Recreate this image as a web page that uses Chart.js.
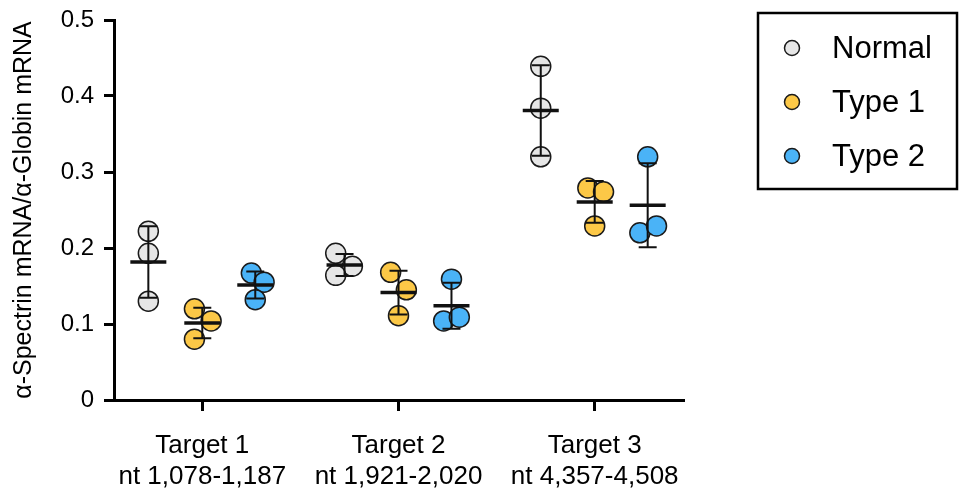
<!DOCTYPE html>
<html>
<head>
<meta charset="utf-8">
<script src="https://cdn.jsdelivr.net/npm/chart.js@4"></script>
<style>
  html, body { margin: 0; padding: 0; background: #fff; }
  #wrap { width: 960px; height: 488px; }
</style>
</head>
<body>
<div id="wrap"><canvas id="chart"></canvas></div>
<script>
// categories and groups
var targets = [["Target 1", "nt 1,078-1,187"], ["Target 2", "nt 1,921-2,020"], ["Target 3", "nt 4,357-4,508"]];
var groups = ["Normal", "Type 1", "Type 2"];
var yTicks = [0, 0.1, 0.2, 0.3, 0.4, 0.5];

// replicate values, one row per target
var normal = [[0.222, 0.193, 0.130], [0.193, 0.176, 0.164], [0.439, 0.384, 0.320]];
var type1 = [[0.120, 0.104, 0.080], [0.168, 0.145, 0.111], [0.279, 0.274, 0.229]];
var type2 = [[0.167, 0.155, 0.132], [0.159, 0.104, 0.109], [0.320, 0.220, 0.229]];

// horizontal scatter of the replicates within a group
var jitter = {
  "Normal": [[0, 0, 0], [-0.045, 0.04, -0.045], [0, 0, 0]],
  "Type 1": [[-0.04, 0.045, -0.04], [-0.04, 0.04, 0], [-0.035, 0.045, 0]],
  "Type 2": [[-0.02, 0.045, 0], [0, -0.04, 0.04], [0, -0.04, 0.045]]
};

var values = { "Normal": normal, "Type 1": type1, "Type 2": type2 };
var colors = { "Normal": "#e6e6e6", "Type 1": "#fcc847", "Type 2": "#4ab3f7" };
var groupShift = { "Normal": -0.275, "Type 1": 0, "Type 2": 0.27 };

function mean(a) { return a.reduce(function (s, v) { return s + v; }, 0) / a.length; }
function sd(a) {
  var m = mean(a);
  return Math.sqrt(a.reduce(function (s, v) { return s + (v - m) * (v - m); }, 0) / (a.length - 1));
}

var datasets = groups.map(function (g) {
  var pts = [];
  values[g].forEach(function (reps, ti) {
    reps.forEach(function (v, ri) {
      pts.push({ x: ti + 1 + groupShift[g] + jitter[g][ti][ri], y: v });
    });
  });
  return {
    label: g,
    data: pts,
    backgroundColor: colors[g],
    borderColor: "#1a1a1a",
    borderWidth: 1.5,
    pointRadius: 10,
    pointHoverRadius: 10
  };
});

// mean line + SD error bars, drawn on top of the dots
var meanSd = {
  id: "meanSd",
  afterDatasetsDraw: function (chart) {
    var ctx = chart.ctx, xs = chart.scales.x, ys = chart.scales.y;
    ctx.save();
    ctx.strokeStyle = "#111";
    groups.forEach(function (g) {
      values[g].forEach(function (reps, ti) {
        var m = mean(reps), s = sd(reps);
        var cx = xs.getPixelForValue(ti + 1 + groupShift[g]);
        var yTop = ys.getPixelForValue(m + s), yBot = ys.getPixelForValue(m - s), yM = ys.getPixelForValue(m);
        ctx.lineWidth = 2;
        ctx.beginPath();
        ctx.moveTo(cx, yTop); ctx.lineTo(cx, yBot);
        ctx.moveTo(cx - 9, yTop); ctx.lineTo(cx + 9, yTop);
        ctx.moveTo(cx - 9, yBot); ctx.lineTo(cx + 9, yBot);
        ctx.stroke();
        ctx.lineWidth = 3.5;
        ctx.beginPath();
        ctx.moveTo(cx - 18, yM); ctx.lineTo(cx + 18, yM);
        ctx.stroke();
      });
    });
    ctx.restore();
  }
};

// boxed legend on the right
var boxLegend = {
  id: "boxLegend",
  afterDraw: function (chart) {
    var ctx = chart.ctx;
    ctx.save();
    ctx.lineWidth = 2.5;
    ctx.strokeStyle = "#000";
    ctx.strokeRect(758, 13, 199, 176);
    ctx.font = "31px 'Liberation Sans', Arial, sans-serif";
    ctx.textBaseline = "middle";
    groups.forEach(function (g, i) {
      var y = 48 + i * 54;
      ctx.beginPath();
      ctx.arc(792, y, 7.5, 0, Math.PI * 2);
      ctx.fillStyle = colors[g];
      ctx.fill();
      ctx.lineWidth = 1.5;
      ctx.strokeStyle = "#1a1a1a";
      ctx.stroke();
      ctx.fillStyle = "#000";
      ctx.fillText(g, 832, y + 1);
    });
    ctx.restore();
  }
};

var family = "'Liberation Sans', Arial, sans-serif";

new Chart(document.getElementById("chart"), {
  type: "scatter",
  data: { datasets: datasets },
  plugins: [meanSd, boxLegend],
  options: {
    responsive: true,
    maintainAspectRatio: false,
    animation: false,
    layout: { padding: { top: 20, right: 277, bottom: 0, left: 9 } },
    plugins: { legend: { display: false }, tooltip: { enabled: false } },
    scales: {
      x: {
        type: "linear",
        min: 0.55,
        max: 3.45,
        afterBuildTicks: function (scale) {
          scale.ticks = targets.map(function (t, i) { return { value: i + 1 }; });
        },
        afterFit: function (scale) {
          scale.height = 88;
          scale.paddingLeft = 0;
          scale.paddingRight = 0;
        },
        border: { display: true, color: "#000", width: 3 },
        grid: { drawOnChartArea: false, color: "#000", lineWidth: 3, tickLength: 11 },
        ticks: {
          color: "#000",
          font: { family: family, size: 26, lineHeight: 1.2 },
          padding: 19,
          maxRotation: 0,
          callback: function (v) { return targets[Math.round(v) - 1]; }
        }
      },
      y: {
        min: 0,
        max: 0.5,
        afterBuildTicks: function (scale) {
          scale.ticks = yTicks.map(function (v) { return { value: v }; });
        },
        afterFit: function (scale) {
          scale.width = 105;
          scale.paddingTop = 0;
          scale.paddingBottom = 0;
        },
        border: { display: true, color: "#000", width: 3 },
        grid: { drawOnChartArea: false, color: "#000", lineWidth: 3, tickLength: 10 },
        ticks: {
          color: "#000",
          font: { family: family, size: 24 },
          padding: 10,
          callback: function (v) { return v === 0 ? "0" : v.toFixed(1); }
        },
        title: {
          display: true,
          text: "α-Spectrin mRNA/α-Globin mRNA",
          color: "#000",
          font: { family: family, size: 25 },
          padding: 0
        }
      }
    }
  }
});
</script>
</body>
</html>
